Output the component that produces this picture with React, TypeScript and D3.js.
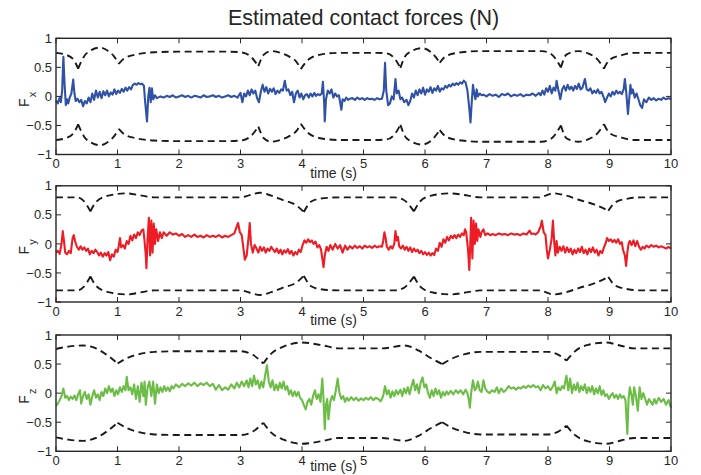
import React from "react";
import * as d3 from "d3";

// ---------- DATA ----------
const xTicks = [0, 1, 2, 3, 4, 5, 6, 7, 8, 9, 10];
const yTicks = [-1, -0.5, 0, 0.5, 1];
const yTickLabels = ["\u22121", "\u22120.5", "0", "0.5", "1"];
const titleText = "Estimated contact forces (N)";
const xLabelText = "time (s)";
const subscripts = ["x", "y", "z"];

const fxData: [number, number][] = [
  [0,-0.07],[0.03,-0.12],[0.06,-0.02],[0.08,-0.1],[0.1,0.1],[0.12,0.68],[0.14,0.2],[0.16,-0.15],[0.18,-0.05],[0.2,-0.12],[0.22,-0.03],[0.25,0.05],[0.28,0.29],[0.3,0.05],[0.32,-0.08],[0.35,-0.04],[0.38,-0.1],[0.41,-0.06],[0.44,-0.17],[0.47,-0.08],[0.5,-0.12],[0.53,-0.02],[0.56,-0.1],[0.59,0.05],[0.62,-0.06],[0.65,0.1],[0.68,-0.02],[0.71,0.08],[0.74,-0.03],[0.77,0.09],[0.8,0.02],[0.83,0.1],[0.86,0.0],[0.89,0.07],[0.92,0.03],[0.95,0.12],[0.98,0.04],[1.01,0.1],[1.04,0.06],[1.07,0.13],[1.1,0.08],[1.13,0.15],[1.16,0.1],[1.19,0.16],[1.22,0.12],[1.25,0.2],[1.28,0.22],[1.31,0.2],[1.34,0.23],[1.37,0.21],[1.4,0.22],[1.43,0.18],[1.45,-0.1],[1.48,-0.43],[1.5,0.0],[1.52,0.15],[1.54,-0.1],[1.56,0.14],[1.58,-0.05],[1.61,0.02],[1.64,-0.03],
  [1.7,0.0],[1.75,-0.02],[1.8,0.01],[1.85,-0.01],[1.9,0.02],[1.95,-0.02],[2.0,0.0],[2.05,0.02],[2.1,-0.01],[2.15,0.01],[2.2,-0.02],[2.25,0.01],[2.3,0.0],[2.35,-0.02],[2.4,0.02],[2.45,-0.01],[2.5,0.0],[2.55,0.02],[2.6,-0.01],[2.65,0.01],[2.7,-0.02],[2.75,0.0],[2.8,0.02],[2.85,-0.01],[2.9,0.01],[2.95,-0.02],
  [3.0,0.06],[3.03,-0.1],[3.06,0.05],[3.09,0.0],[3.12,0.1],[3.15,0.02],[3.18,0.12],[3.21,0.05],[3.24,0.1],[3.27,-0.03],[3.3,-0.1],[3.33,0.08],[3.36,0.2],[3.39,0.08],[3.42,0.16],[3.45,0.05],[3.48,0.13],[3.51,0.08],[3.54,0.14],[3.57,0.04],[3.6,0.1],[3.63,0.06],[3.66,0.12],[3.69,0.1],[3.72,0.27],[3.75,0.1],[3.78,0.12],[3.81,0.02],[3.84,0.08],[3.87,-0.1],[3.9,0.05],[3.93,0.1],[3.96,-0.02],[3.99,0.05],[4.02,-0.05],[4.05,0.02],[4.08,0.04],[4.11,-0.02],[4.14,0.05],[4.17,0.0],[4.2,0.06],[4.23,0.01],[4.26,0.04],[4.29,0.02],[4.32,0.05],[4.34,0.25],[4.36,-0.1],[4.37,-0.43],[4.39,-0.05],[4.42,0.1],[4.45,0.05],[4.48,0.12],[4.51,-0.02],[4.54,0.05],[4.57,0.0],[4.6,0.02],[4.62,-0.1],[4.64,-0.23],[4.66,-0.05],[4.69,-0.08],[4.72,-0.02],[4.75,-0.06],[4.78,-0.04],
  [4.82,-0.03],[4.86,-0.06],[4.9,-0.02],[4.94,-0.05],[4.98,-0.03],[5.02,-0.06],[5.06,-0.03],[5.1,-0.05],[5.14,-0.04],[5.18,-0.06],[5.22,-0.03],[5.26,-0.05],[5.3,-0.04],[5.33,0.1],[5.35,0.58],[5.37,0.1],[5.4,-0.15],[5.43,-0.12],[5.46,0.0],[5.49,-0.05],[5.52,0.3],[5.54,0.05],[5.57,0.1],[5.6,-0.05],[5.63,-0.02],[5.66,-0.1],[5.7,-0.06],[5.73,-0.15],[5.76,-0.08],[5.79,0.05],[5.82,-0.02],[5.85,0.1],[5.88,0.02],[5.91,0.12],[5.94,0.05],[5.97,0.15],[6.0,0.03],[6.03,0.12],[6.06,0.08],[6.09,0.16],[6.12,0.06],[6.15,0.14],[6.18,0.1],[6.21,0.18],[6.24,0.08],[6.27,0.14],[6.3,0.12],[6.33,0.18],[6.36,0.15],[6.39,0.2],[6.42,0.17],[6.45,0.22],[6.48,0.19],[6.51,0.23],[6.54,0.2],[6.57,0.24],[6.6,0.22],[6.63,0.27],[6.66,0.24],[6.69,0.1],[6.72,-0.2],[6.74,-0.45],[6.76,-0.1],[6.78,0.2],[6.8,0.05],[6.82,-0.05],[6.84,0.12],[6.86,0.0],[6.89,0.05],[6.92,0.02],
  [6.95,0.03],[7.0,0.0],[7.05,0.04],[7.1,0.01],[7.15,0.03],[7.2,-0.01],[7.25,0.04],[7.3,0.02],[7.35,0.05],[7.4,0.0],[7.45,0.03],[7.5,0.01],[7.55,0.04],[7.6,0.0],[7.65,0.03],[7.7,0.02],[7.75,0.05],[7.8,0.01],[7.85,0.06],[7.88,0.02],[7.91,0.1],[7.94,0.03],[7.97,0.14],[8.0,0.08],[8.03,0.18],[8.06,0.05],[8.09,0.15],[8.12,0.1],[8.14,0.27],[8.17,0.1],[8.2,-0.05],[8.23,0.12],[8.26,0.18],[8.29,0.1],[8.32,0.2],[8.35,0.12],[8.38,0.17],[8.41,0.1],[8.44,0.18],[8.47,0.13],[8.5,0.22],[8.53,0.12],[8.56,0.15],[8.6,0.3],[8.63,0.12],[8.66,0.1],[8.69,0.14],[8.72,0.05],[8.75,0.1],[8.78,0.06],[8.81,0.12],[8.84,0.05],[8.87,0.08],[8.9,0.0],[8.93,-0.1],[8.96,-0.02],[8.99,0.05],[9.02,0.0],[9.05,0.08],[9.08,0.03],[9.11,0.1],[9.14,0.05],[9.17,0.08],[9.2,0.04],[9.23,0.12],[9.25,0.3],[9.27,0.1],[9.3,-0.3],[9.32,-0.05],[9.34,0.2],[9.36,0.05],[9.38,0.12],[9.41,-0.02],[9.44,0.05],[9.47,-0.05],[9.5,-0.15],[9.53,-0.2],[9.56,-0.05],[9.6,-0.1],[9.64,-0.02],[9.68,-0.06],[9.72,-0.03],[9.76,-0.07],[9.8,-0.04],[9.84,-0.06],[9.88,-0.02],[9.92,-0.05],[9.96,-0.03],[10,-0.05],
];

const fyData: [number, number][] = [
  [0,-0.15],[0.03,-0.12],[0.06,-0.17],[0.09,0.0],[0.11,0.22],[0.13,0.05],[0.15,-0.15],[0.18,-0.18],[0.21,-0.12],[0.24,-0.16],[0.27,0.1],[0.29,0.15],[0.31,0.05],[0.34,-0.05],[0.37,-0.1],[0.4,-0.04],[0.43,-0.1],[0.46,-0.06],[0.49,-0.12],[0.52,-0.08],[0.55,-0.18],[0.58,-0.12],[0.61,-0.16],[0.64,-0.1],[0.67,-0.14],[0.7,-0.2],[0.73,-0.15],[0.76,-0.22],[0.79,-0.16],[0.82,-0.2],[0.85,-0.14],[0.88,-0.28],[0.91,-0.18],[0.94,-0.22],[0.97,-0.1],[1.0,-0.14],[1.02,-0.04],[1.04,0.1],[1.06,-0.06],[1.09,-0.02],[1.12,-0.08],[1.15,0.05],[1.18,0.0],[1.21,0.14],[1.24,0.06],[1.27,0.16],[1.3,0.1],[1.33,0.2],[1.36,0.15],[1.39,0.23],[1.42,0.25],[1.44,0.05],[1.46,-0.2],[1.47,-0.42],[1.49,0.1],[1.51,0.45],[1.53,-0.2],[1.55,0.4],[1.57,-0.15],[1.59,0.35],[1.61,0.0],[1.63,0.25],[1.66,0.05],[1.69,0.2],[1.72,0.1],[1.75,0.2],
  [1.8,0.14],[1.85,0.2],[1.9,0.16],[1.95,0.18],[2.0,0.14],[2.05,0.17],[2.1,0.12],[2.15,0.15],[2.2,0.12],[2.25,0.16],[2.3,0.12],[2.35,0.14],[2.4,0.11],[2.45,0.15],[2.5,0.12],[2.55,0.14],[2.6,0.12],[2.65,0.15],[2.7,0.11],[2.75,0.14],[2.8,0.12],[2.85,0.15],[2.9,0.18],[2.94,0.3],[2.96,0.36],[2.99,0.2],[3.02,0.15],[3.05,-0.1],[3.07,-0.27],[3.1,-0.2],[3.13,0.1],[3.15,0.36],[3.17,0.0],[3.2,-0.15],[3.23,-0.02],[3.26,-0.08],[3.29,-0.15],[3.32,-0.05],[3.35,-0.12],[3.38,-0.06],[3.41,-0.15],[3.44,-0.08],[3.47,-0.12],[3.5,-0.05],[3.53,-0.1],[3.56,-0.14],[3.59,-0.08],[3.62,-0.16],[3.65,-0.1],[3.68,-0.18],[3.71,-0.11],[3.74,-0.15],[3.77,-0.09],[3.8,-0.17],[3.83,-0.12],[3.86,-0.2],[3.89,-0.14],[3.92,-0.18],[3.95,-0.1],[3.98,-0.14],
  [4.01,-0.02],[4.04,0.06],[4.07,0.02],[4.1,0.08],[4.13,0.03],[4.16,0.06],[4.19,0.0],[4.22,0.04],[4.25,-0.06],[4.28,-0.02],[4.31,-0.1],[4.33,-0.25],[4.35,-0.4],[4.37,-0.2],[4.4,-0.05],[4.43,-0.12],[4.46,-0.02],[4.5,-0.1],[4.54,0.0],[4.58,-0.08],[4.62,-0.02],[4.66,-0.15],[4.7,-0.03],[4.74,-0.1],[4.78,-0.04],[4.82,-0.08],[4.86,-0.03],[4.9,-0.07],[4.94,-0.04],[4.98,-0.08],[5.02,-0.03],[5.06,-0.06],[5.1,-0.04],[5.14,-0.07],[5.18,-0.03],[5.22,-0.06],[5.26,-0.04],[5.3,-0.05],[5.32,0.05],[5.34,0.2],[5.36,0.1],[5.38,-0.05],[5.41,-0.1],[5.44,-0.04],[5.47,-0.08],[5.5,0.0],[5.52,0.22],[5.54,0.06],[5.56,0.12],[5.58,-0.04],[5.61,-0.08],[5.64,-0.03],[5.67,-0.1],[5.7,-0.05],[5.73,-0.12],[5.76,-0.06],[5.79,-0.14],[5.82,-0.08],[5.85,-0.13],[5.88,-0.1],[5.91,-0.16],[5.94,-0.12],[5.97,-0.18],[6.0,-0.14],[6.03,-0.19],[6.06,-0.15],[6.09,-0.2],[6.12,-0.16],[6.15,-0.19],[6.18,-0.08],[6.21,-0.12],[6.24,0.02],[6.27,-0.05],[6.3,0.08],[6.33,0.02],[6.36,0.12],[6.39,0.06],[6.42,0.14],[6.45,0.1],[6.48,0.15],[6.51,0.1],[6.54,0.16],[6.57,0.12],[6.6,0.18],[6.63,0.15],[6.65,0.25],[6.67,0.2],[6.7,-0.1],[6.72,-0.45],[6.74,0.1],[6.75,0.45],[6.77,-0.25],[6.79,0.4],[6.81,0.0],[6.83,0.35],[6.85,0.05],[6.87,0.25],[6.9,0.12],[6.92,0.2],[6.95,0.25],[6.98,0.15],
  [7.02,0.18],[7.06,0.15],[7.1,0.17],[7.15,0.15],[7.2,0.18],[7.25,0.16],[7.3,0.17],[7.35,0.15],[7.4,0.18],[7.45,0.16],[7.5,0.17],[7.55,0.15],[7.6,0.18],[7.65,0.16],[7.7,0.23],[7.73,0.17],[7.77,0.18],[7.8,0.16],[7.84,0.2],[7.88,0.3],[7.9,0.4],[7.93,0.2],[7.96,0.15],[7.98,-0.1],[8.0,-0.25],[8.03,-0.1],[8.06,0.1],[8.08,0.4],[8.1,0.05],[8.12,-0.2],[8.14,0.05],[8.16,-0.15],[8.19,-0.05],[8.22,-0.12],[8.25,-0.04],[8.28,-0.15],[8.31,-0.06],[8.34,-0.14],[8.37,-0.08],[8.4,-0.18],[8.43,-0.1],[8.46,-0.16],[8.49,-0.08],[8.52,-0.14],[8.55,-0.05],[8.58,-0.16],[8.61,-0.1],[8.64,-0.18],[8.67,-0.08],[8.7,-0.14],[8.73,-0.06],[8.76,-0.15],[8.79,-0.1],[8.82,-0.2],[8.85,-0.12],[8.88,-0.16],[8.91,-0.06],[8.94,0.02],[8.96,0.1],[8.99,0.05],[9.02,0.08],[9.05,0.03],[9.08,0.07],[9.11,0.02],[9.14,0.08],[9.17,0.0],[9.2,0.03],[9.22,-0.1],[9.25,-0.2],[9.27,-0.38],[9.29,-0.15],[9.31,0.0],[9.33,0.05],[9.36,-0.02],[9.39,0.06],[9.42,-0.04],[9.45,0.05],[9.48,-0.05],[9.51,-0.1],[9.54,-0.05],[9.57,-0.08],[9.6,-0.03],[9.64,-0.06],[9.68,-0.02],[9.72,-0.05],[9.76,-0.03],[9.8,-0.06],[9.84,-0.04],[9.88,-0.06],[9.92,-0.08],[9.96,-0.05],[10,-0.08],
];

const fzData: [number, number][] = [
  [0,-0.22],[0.03,-0.18],[0.06,-0.12],[0.09,-0.05],[0.12,0.08],[0.15,-0.08],[0.18,-0.05],[0.21,-0.12],[0.24,-0.06],[0.27,-0.1],[0.3,-0.04],[0.33,-0.12],[0.36,-0.02],[0.39,0.05],[0.41,-0.18],[0.44,-0.05],[0.47,0.02],[0.5,-0.1],[0.53,-0.02],[0.56,-0.2],[0.59,-0.05],[0.62,0.05],[0.65,-0.08],[0.68,-0.02],[0.71,-0.12],[0.74,0.02],[0.77,-0.05],[0.8,0.08],[0.83,0.0],[0.86,0.12],[0.89,0.02],[0.92,0.08],[0.95,-0.05],[0.98,0.05],[1.01,-0.02],[1.04,0.1],[1.07,0.02],[1.1,0.12],[1.13,0.05],[1.15,0.28],[1.18,0.05],[1.21,0.1],[1.24,-0.02],[1.27,0.15],[1.3,-0.1],[1.33,0.12],[1.36,-0.15],[1.39,0.18],[1.42,-0.05],[1.44,0.2],[1.46,-0.2],[1.49,0.1],[1.52,0.2],[1.55,-0.05],[1.58,0.2],[1.61,-0.18],[1.64,0.15],[1.67,0.0],[1.7,0.1],[1.73,0.02],[1.76,0.12],[1.79,0.04],[1.82,0.1],[1.85,0.03],[1.88,0.12],[1.91,0.08],[1.95,0.15],
  [2.0,0.1],[2.05,0.16],[2.1,0.12],[2.15,0.17],[2.2,0.13],[2.25,0.18],[2.3,0.12],[2.35,0.17],[2.4,0.14],[2.45,0.18],[2.5,0.12],[2.55,0.16],[2.6,0.06],[2.65,0.14],[2.7,0.05],[2.75,0.1],[2.8,0.06],[2.85,0.15],[2.9,0.08],[2.94,0.18],[2.98,0.1],[3.02,0.2],[3.06,0.12],[3.1,0.22],[3.13,0.1],[3.16,0.25],[3.19,0.12],[3.22,0.3],[3.25,0.15],[3.28,0.22],[3.31,0.08],[3.34,0.2],[3.37,0.1],[3.4,0.3],[3.43,0.48],[3.46,0.2],[3.49,0.1],[3.52,0.22],[3.55,0.05],[3.58,0.15],[3.61,0.05],[3.64,0.18],[3.67,0.08],[3.7,0.2],[3.73,0.06],[3.76,0.12],[3.79,-0.02],[3.82,0.05],[3.85,-0.05],[3.88,0.03],[3.91,-0.05],[3.94,0.02],[3.97,-0.08],
  [4.0,-0.12],[4.03,-0.2],[4.06,-0.28],[4.09,-0.15],[4.12,-0.1],[4.15,-0.2],[4.18,-0.05],[4.21,0.05],[4.24,-0.1],[4.27,-0.02],[4.3,-0.15],[4.33,0.25],[4.35,-0.1],[4.37,-0.62],[4.39,-0.2],[4.41,-0.1],[4.43,-0.45],[4.46,-0.15],[4.49,-0.05],[4.52,-0.12],[4.55,0.05],[4.58,0.25],[4.61,0.0],[4.64,-0.1],[4.67,-0.05],[4.7,-0.15],[4.73,-0.08],[4.76,-0.13],[4.8,-0.07],[4.84,-0.12],[4.88,-0.08],[4.92,-0.13],[4.96,-0.09],[5.0,-0.12],[5.04,-0.08],[5.08,-0.11],[5.12,-0.07],[5.16,-0.12],[5.2,-0.08],[5.24,-0.1],[5.28,-0.14],[5.32,-0.05],[5.35,0.12],[5.38,-0.02],[5.41,0.05],[5.44,-0.08],[5.47,0.03],[5.5,-0.05],[5.53,0.05],[5.56,-0.02],[5.6,0.06],[5.63,-0.05],[5.66,0.08],[5.69,0.0],[5.72,0.1],[5.75,-0.02],[5.78,0.12],[5.81,0.23],[5.84,0.05],[5.87,0.15],[5.9,0.0],[5.93,0.18],[5.96,0.27],[5.99,0.1],
  [6.02,0.15],[6.05,0.0],[6.08,-0.08],[6.11,0.05],[6.14,-0.05],[6.17,0.08],[6.2,-0.02],[6.23,0.05],[6.26,-0.08],[6.29,0.02],[6.32,-0.04],[6.35,0.03],[6.38,-0.02],[6.42,0.04],[6.46,-0.02],[6.5,0.05],[6.54,0.0],[6.58,0.05],[6.62,-0.02],[6.66,0.06],[6.69,0.0],[6.71,-0.1],[6.73,-0.25],[6.75,0.0],[6.78,0.22],[6.81,0.05],[6.84,0.1],[6.86,0.2],[6.89,0.05],[6.92,0.02],[6.95,0.22],[6.98,0.08],[7.01,0.03],[7.05,0.0],[7.09,0.05],[7.13,0.02],[7.17,0.1],[7.2,0.0],[7.24,0.08],[7.28,0.02],[7.32,0.06],[7.36,0.12],[7.4,0.08],[7.44,0.1],[7.48,0.06],[7.52,0.1],[7.56,0.08],[7.6,0.12],[7.64,0.09],[7.68,0.13],[7.72,0.1],[7.76,0.14],[7.8,0.1],[7.84,0.12],[7.88,0.05],[7.92,0.14],[7.96,0.08],
  [8.0,0.12],[8.04,0.05],[8.08,0.12],[8.11,0.2],[8.14,0.0],[8.17,0.1],[8.2,0.05],[8.23,0.12],[8.26,0.08],[8.3,0.3],[8.33,0.05],[8.36,0.25],[8.39,0.0],[8.42,0.15],[8.45,0.05],[8.48,0.18],[8.51,0.02],[8.54,0.12],[8.57,0.05],[8.6,0.15],[8.63,0.0],[8.66,0.1],[8.69,0.02],[8.72,0.12],[8.75,-0.02],[8.78,0.08],[8.81,0.0],[8.84,0.12],[8.87,-0.03],[8.9,0.05],[8.93,-0.05],[8.96,-0.02],[8.99,-0.1],[9.02,-0.04],[9.05,0.0],[9.08,-0.08],[9.11,-0.03],[9.14,-0.1],[9.17,-0.02],[9.2,-0.08],[9.23,-0.05],[9.26,-0.12],[9.29,-0.7],[9.31,-0.1],[9.33,0.1],[9.36,-0.05],[9.38,-0.2],[9.4,0.1],[9.43,-0.05],[9.46,-0.3],[9.49,0.1],[9.52,-0.1],[9.55,0.0],[9.58,-0.1],[9.61,-0.2],[9.64,-0.1],[9.67,-0.15],[9.7,-0.2],[9.73,-0.1],[9.76,-0.18],[9.8,-0.08],[9.84,-0.15],[9.88,-0.1],[9.92,-0.2],[9.96,-0.12],[10,-0.25],
];

// upper bounds (lower bound is the mirror image)
const fxBound: [number, number][] = [
  [0,0.75],[0.15,0.72],[0.28,0.64],[0.36,0.48],[0.45,0.68],[0.58,0.8],[0.72,0.84],[0.85,0.78],[0.95,0.68],[1.02,0.56],[1.12,0.66],[1.3,0.72],[1.6,0.76],[2.0,0.77],[2.8,0.77],[3.0,0.76],[3.15,0.7],[3.29,0.52],[3.38,0.72],[3.5,0.78],[3.65,0.75],[3.8,0.68],[3.92,0.58],[3.98,0.47],[4.1,0.63],[4.3,0.72],[4.6,0.75],[5.2,0.75],[5.38,0.74],[5.5,0.66],[5.6,0.49],[5.7,0.72],[5.95,0.83],[6.1,0.76],[6.24,0.58],[6.35,0.7],[6.6,0.76],[6.9,0.78],[7.9,0.78],[8.05,0.73],[8.21,0.5],[8.3,0.72],[8.49,0.78],[8.65,0.74],[8.8,0.64],[8.91,0.48],[9.0,0.63],[9.2,0.71],[9.4,0.75],[10,0.75],
];
const fyBound: [number, number][] = [
  [0,0.8],[0.35,0.8],[0.45,0.74],[0.56,0.56],[0.65,0.72],[0.85,0.83],[1.15,0.87],[1.4,0.83],[1.6,0.8],[3.0,0.8],[3.15,0.84],[3.32,0.88],[3.5,0.83],[3.7,0.75],[3.9,0.67],[4.03,0.55],[4.15,0.73],[4.3,0.78],[4.6,0.8],[5.5,0.8],[5.65,0.76],[5.82,0.56],[5.92,0.73],[6.1,0.83],[6.41,0.87],[6.7,0.83],[6.9,0.8],[7.85,0.8],[8.09,0.87],[8.3,0.83],[8.5,0.76],[8.75,0.68],[8.98,0.57],[9.1,0.72],[9.3,0.78],[9.5,0.8],[10,0.8],
];
const fzBound: [number, number][] = [
  [0,0.76],[0.2,0.8],[0.44,0.82],[0.65,0.77],[0.85,0.64],[1.0,0.51],[1.15,0.6],[1.35,0.67],[1.6,0.71],[2.0,0.72],[3.0,0.72],[3.2,0.66],[3.37,0.51],[3.5,0.68],[3.7,0.8],[4.0,0.87],[4.3,0.83],[4.6,0.77],[5.3,0.77],[5.67,0.82],[5.9,0.73],[6.1,0.6],[6.28,0.5],[6.45,0.6],[6.65,0.67],[6.9,0.71],[8.0,0.71],[8.15,0.67],[8.3,0.56],[8.45,0.73],[8.65,0.83],[8.95,0.87],[9.2,0.81],[9.4,0.77],[10,0.77],
];

const seriesColors = ["#3052a6", "#ee1d25", "#6cbd45"];

// ---------- LAYOUT ----------
const W = 701;
const H = 475;
const LEFT = 56;
const RIGHT = 671;
const panelBoxes = [
  { top: 38.3, bottom: 154.5, labelDy: 23 },
  { top: 185.8, bottom: 302, labelDy: 23 },
  { top: 335, bottom: 451.3, labelDy: 19.5 },
];
const FONT = "'Liberation Sans', Arial, Helvetica, sans-serif";
const AXIS_COLOR = "#262626";

const allData = [fxData, fyData, fzData];
const allBounds = [fxBound, fyBound, fzBound];

function splitAtCusps(pts: [number, number][]): [number, number][][] {
  const segs: [number, number][][] = [];
  let cur: [number, number][] = [pts[0]];
  for (let i = 1; i < pts.length; i++) {
    cur.push(pts[i]);
    if (i < pts.length - 1 && pts[i][1] < pts[i - 1][1] && pts[i][1] < pts[i + 1][1]) {
      segs.push(cur);
      cur = [pts[i]];
    }
  }
  segs.push(cur);
  return segs;
}

function Panel({ idx }: { idx: number }) {
  const { top, bottom, labelDy } = panelBoxes[idx];
  const x = d3.scaleLinear().domain([0, 10]).range([LEFT, RIGHT]);
  const y = d3.scaleLinear().domain([-1, 1]).range([bottom, top]);
  const line = d3
    .line<[number, number]>()
    .x((d) => x(d[0]))
    .y((d) => y(d[1]));
  const smooth = d3
    .line<[number, number]>()
    .x((d) => x(d[0]))
    .y((d) => y(d[1]))
    .curve(d3.curveMonotoneX);
  const segs = splitAtCusps(allBounds[idx]);
  const upperPath = segs.map((s) => smooth(s)).join("");
  const lowerPath = segs
    .map((s) => smooth(s.map((p) => [p[0], -p[1]] as [number, number])))
    .join("");
  const tickLen = 5;
  const midY = y(0) + 3;
  return (
    <g>
      <path d={upperPath} fill="none" stroke="#1a1a1a" strokeWidth={1.9} strokeDasharray="7,4.5" />
      <path d={lowerPath} fill="none" stroke="#1a1a1a" strokeWidth={1.9} strokeDasharray="7,4.5" />
      <path d={line(allData[idx]) || ""} fill="none" stroke={seriesColors[idx]} strokeWidth={2.1} strokeLinejoin="round" />
      {/* box */}
      <rect x={LEFT} y={top} width={RIGHT - LEFT} height={bottom - top} fill="none" stroke={AXIS_COLOR} strokeWidth={1.4} />
      {xTicks.map((t) => (
        <g key={"xt" + t}>
          <line x1={x(t)} x2={x(t)} y1={bottom} y2={bottom - tickLen} stroke={AXIS_COLOR} strokeWidth={1} />
          <line x1={x(t)} x2={x(t)} y1={top} y2={top + tickLen} stroke={AXIS_COLOR} strokeWidth={1} />
          <text x={x(t)} y={bottom + 13.5} textAnchor="middle" fontSize={13} fill={AXIS_COLOR} fontFamily={FONT}>
            {t}
          </text>
        </g>
      ))}
      {yTicks.map((t, i) => (
        <g key={"yt" + t}>
          <line x1={LEFT} x2={LEFT + tickLen} y1={y(t)} y2={y(t)} stroke={AXIS_COLOR} strokeWidth={1} />
          <line x1={RIGHT} x2={RIGHT - tickLen} y1={y(t)} y2={y(t)} stroke={AXIS_COLOR} strokeWidth={1} />
          <text x={52} y={y(t) + 4.6} textAnchor="end" fontSize={13} fill={AXIS_COLOR} fontFamily={FONT}>
            {yTickLabels[i]}
          </text>
        </g>
      ))}
      <text x={333.5} y={bottom + labelDy} textAnchor="middle" fontSize={14} fill={AXIS_COLOR} fontFamily={FONT}>
        {xLabelText}
      </text>
      <text
        transform={`translate(28.5,${midY}) rotate(-90)`}
        textAnchor="middle"
        fontSize={14}
        fill={AXIS_COLOR}
        fontFamily={FONT}
      >
        F
        <tspan dy={7} dx={1} fontSize={11}>
          {subscripts[idx]}
        </tspan>
      </text>
    </g>
  );
}

export default function App() {
  return (
    <svg
      width={W}
      height={H}
      style={{ position: "absolute", left: 0, top: 0, background: "#fff" }}
    >
      <rect x={0} y={0} width={W} height={H} fill="#fff" />
      <text x={363.5} y={25} textAnchor="middle" fontSize={21.5} fill={AXIS_COLOR} fontFamily={FONT}>
        {titleText}
      </text>
      {[0, 1, 2].map((i) => (
        <Panel key={i} idx={i} />
      ))}
    </svg>
  );
}
